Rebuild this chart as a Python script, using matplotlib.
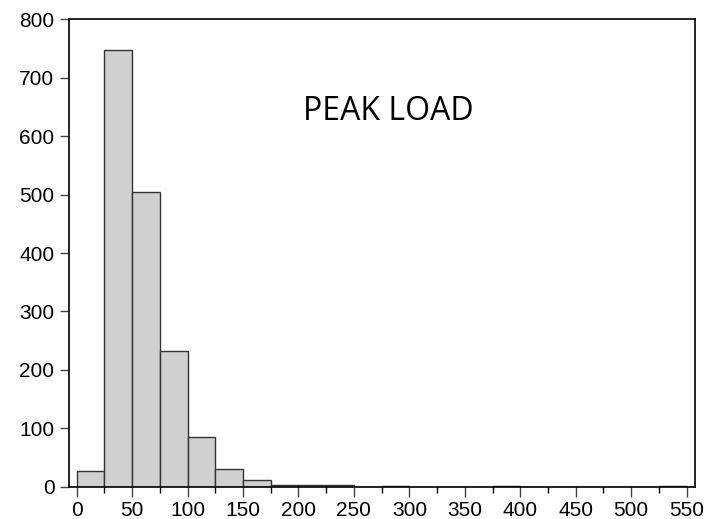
import numpy as np
import matplotlib.pyplot as plt

# histogram of peak load, bin width 25
bin_edges = np.arange(0, 575, 25)
counts = [27, 748, 505, 232, 85, 30, 12, 3, 3, 3, 0, 1, 0, 0, 0, 1, 0, 0, 0, 0, 0, 1]
x_ticks = np.arange(0, 600, 50)
y_ticks = np.arange(0, 900, 100)

plt.rcParams['font.family'] = ['Liberation Sans', 'DejaVu Sans']

fig = plt.figure(figsize=(7.04, 5.19), dpi=100)
ax = fig.add_axes([0.098, 0.062, 0.889, 0.901])

ax.bar(bin_edges[:-1], counts, width=25, align='edge',
       color='#d0d0d0', edgecolor='#333333', linewidth=1.0)

ax.set_xlim(-7, 557.5)
ax.set_ylim(0, 800)
ax.set_xticks(x_ticks)
ax.set_xticks(np.arange(25, 575, 50), minor=True)
ax.set_yticks(y_ticks)
ax.tick_params(axis='both', labelsize=15, direction='out', length=7, width=1,
               color='#444444')
ax.tick_params(axis='y', length=6.5, pad=4)
ax.tick_params(axis='x', which='minor', length=4.3, width=1)
ax.tick_params(axis='x', pad=3.5)
for s in ax.spines.values():
    s.set_linewidth(1.2)

ax.text(0.51, 0.802, 'PEAK LOAD', transform=ax.transAxes, ha='center', va='center',
        fontsize=23, family=['Open Sans', 'DejaVu Sans'])

fig.savefig('out.png', dpi=100)
